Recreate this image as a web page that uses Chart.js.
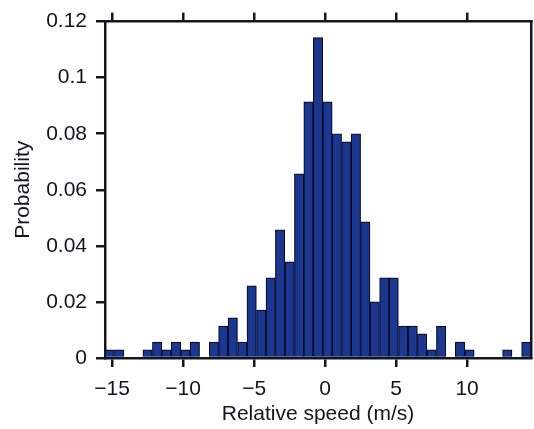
<!DOCTYPE html>
<html>
<head>
<meta charset="utf-8">
<script src="https://cdn.jsdelivr.net/npm/chart.js@4.4.1/dist/chart.umd.min.js"></script>
<style>
  html, body { margin: 0; padding: 0; background: #fff; }
  #wrap { width: 534px; height: 429px; }
</style>
</head>
<body>
<div id="wrap"><canvas id="histChart" width="534" height="429"></canvas></div>
<script>
// bin centres of the histogram (m/s), bins are 2/3 m/s wide
const binCenters = [
  -15.17, -14.50, -13.83, -13.17, -12.50, -11.83, -11.17, -10.50, -9.83, -9.17,
  -8.50, -7.83, -7.17, -6.50, -5.83, -5.17, -4.50, -3.83, -3.17, -2.50,
  -1.83, -1.17, -0.50, 0.17, 0.83, 1.50, 2.17, 2.83, 3.50, 4.17,
  4.83, 5.50, 6.17, 6.83, 7.50, 8.17, 8.83, 9.50, 10.17, 10.83,
  11.50, 12.17, 12.83, 13.50, 14.17
];
// probability of each bin
const probability = [
  0.0029, 0.0029, 0, 0, 0.0029, 0.0057, 0.0029, 0.0057, 0.0029, 0.0057,
  0, 0.0057, 0.0114, 0.0143, 0.0057, 0.0257, 0.0171, 0.0286, 0.0457, 0.0343,
  0.0657, 0.0914, 0.1143, 0.0914, 0.08, 0.0771, 0.08, 0.0486, 0.02, 0.0286,
  0.0286, 0.0114, 0.0114, 0.0086, 0.0029, 0.0114, 0, 0.0057, 0.0029, 0,
  0, 0, 0.0029, 0, 0.0057
];
const xTicks = [-15, -10, -5, 0, 5, 10];
const yTicks = [0, 0.02, 0.04, 0.06, 0.08, 0.1, 0.12];
const xRange = [-15.5, 14.5];
const yRange = [0, 0.12];

const ink = '#151520';
const font = { family: "'Liberation Sans', Arial, sans-serif", size: 21 };
const tickMarks = () => ({ display: true, offset: false, drawOnChartArea: false, drawTicks: true, tickLength: 9, color: ink, lineWidth: 2.5 });
const frame = () => ({ display: true, color: ink, width: 2.5 });

// minus sign like the original, not a hyphen
const fmt = v => (v < 0 ? '\u2212' + Math.abs(v) : String(v));

new Chart(document.getElementById('histChart'), {
    type: 'bar',
    data: {
        datasets: [{
            data: binCenters.map((x, i) => ({ x: x, y: probability[i] })),
            backgroundColor: '#1b3790',
            borderColor: '#080c2c',
            borderWidth: 1.2,
            barPercentage: 1,
            categoryPercentage: 1
        }]
    },
    options: {
        responsive: false,
        animation: false,
        layout: { padding: 0 },
        plugins: { legend: { display: false }, tooltip: { enabled: false } },
        scales: {
            x: {
                type: 'linear', position: 'bottom', offset: false,
                min: xRange[0], max: xRange[1],
                afterBuildTicks: s => { s.ticks = xTicks.map(v => ({ value: v })); },
                afterFit: s => { s.height = 71; },
                ticks: { color: ink, font: font, padding: 10, maxRotation: 0, callback: v => fmt(v) },
                grid: tickMarks(), border: frame(),
                title: { display: true, text: 'Relative speed (m/s)', color: ink, font: font, padding: { top: 0, bottom: 2 } }
            },
            // top and right edges of the box
            x2: {
                type: 'linear', position: 'top', offset: false,
                min: xRange[0], max: xRange[1],
                afterBuildTicks: s => { s.ticks = xTicks.map(v => ({ value: v })); },
                afterFit: s => { s.height = 17; },
                ticks: { display: false },
                grid: tickMarks(), border: frame()
            },
            y: {
                type: 'linear', position: 'left',
                min: yRange[0], max: yRange[1],
                afterBuildTicks: s => { s.ticks = yTicks.map(v => ({ value: v })); },
                afterFit: s => { s.width = 105; },
                ticks: { color: ink, font: font, padding: 9, callback: v => fmt(v) },
                grid: tickMarks(), border: frame(),
                title: { display: true, text: 'Probability', color: ink, font: font, padding: { top: 11, bottom: 0 } }
            },
            y2: {
                type: 'linear', position: 'right',
                min: yRange[0], max: yRange[1],
                afterFit: s => { s.width = 3; },
                ticks: { display: false },
                grid: { display: false, drawTicks: false },
                border: frame()
            }
        }
    }
});
</script>
</body>
</html>
